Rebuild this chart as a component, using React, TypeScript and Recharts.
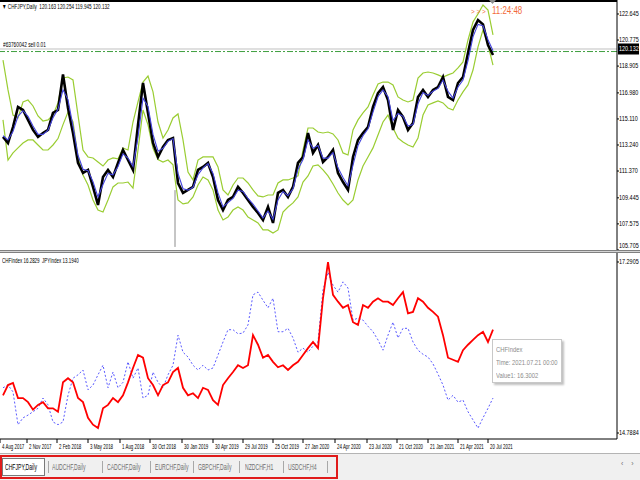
import React from 'react';
import { ComposedChart, Line, XAxis, YAxis, ReferenceLine } from 'recharts';

const FONT = "'Liberation Sans', Arial, sans-serif";

// CHFJPY daily closes, sampled along the chart
const closes = [
  113.82, 113.38, 114.53, 115.97, 115.75, 115.04, 114.32, 113.82, 114.10, 114.32,
  115.54, 115.75, 118.30, 115.90, 114.10, 111.95, 111.23, 111.45, 110.23, 108.93,
  110.94, 111.45, 110.94, 111.95, 112.88, 112.16, 111.45, 114.68, 117.70, 115.54,
  113.38, 112.38, 113.10, 113.60, 113.74, 110.51, 109.80, 110.01, 110.23, 111.45,
  111.66, 111.95, 110.94, 109.29, 108.57, 109.29, 109.51, 110.23, 109.80, 109.29,
  108.79, 108.36, 107.86, 108.79, 107.64, 109.80, 110.01, 109.51, 110.23, 111.95,
  112.38, 114.10, 112.67, 113.24, 112.02, 112.38, 112.88, 111.23, 110.58, 110.01,
  112.38, 113.60, 114.10, 114.53, 115.97, 116.97, 117.40, 116.47, 114.32, 115.75,
  115.25, 114.32, 114.82, 116.69, 117.19, 116.69, 117.19, 117.40, 118.12, 116.69,
  116.47, 117.69, 118.12, 119.85, 121.50, 122.21, 121.90, 120.42, 119.70,
];

const ma = [
  113.9, 113.6, 114.2, 115.3, 115.7, 115.3, 114.6, 114.0, 114.0, 114.3,
  115.2, 115.8, 117.2, 116.5, 114.6, 112.5, 111.5, 111.4, 110.6, 109.5,
  110.4, 111.2, 111.1, 111.7, 112.6, 112.3, 111.7, 113.8, 116.6, 116.0,
  114.0, 112.8, 113.0, 113.5, 113.7, 111.2, 110.1, 110.0, 110.2, 111.1,
  111.6, 111.9, 111.2, 109.8, 108.8, 109.1, 109.4, 110.0, 109.9, 109.4,
  109.0, 108.5, 108.0, 108.5, 107.9, 109.3, 109.9, 109.6, 110.1, 111.5,
  112.2, 113.6, 113.0, 113.2, 112.3, 112.3, 112.7, 111.6, 110.9, 110.3,
  111.8, 113.2, 113.9, 114.4, 115.6, 116.7, 117.2, 116.7, 115.0, 115.5,
  115.3, 114.6, 114.7, 116.2, 117.0, 116.8, 117.1, 117.3, 117.9, 117.1,
  116.6, 117.4, 117.9, 119.3, 121.0, 121.9, 121.8, 120.8, 120.0,
];

const envUpper = [
  119.34, 117.19, 115.39, 115.18, 116.33, 116.47, 116.04, 115.32, 114.96, 115.04,
  115.39, 116.26, 118.05, 118.12, 117.91, 115.39, 112.88, 112.38, 112.31, 112.02,
  111.73, 112.16, 112.31, 112.24, 113.03, 112.88, 114.89, 116.33, 117.76, 118.19,
  117.05, 114.89, 113.74, 114.32, 115.18, 115.47, 113.60, 111.30, 110.73, 112.16,
  112.38, 112.38, 112.38, 111.66, 110.01, 109.65, 110.37, 110.87, 110.87, 110.51,
  110.01, 109.58, 109.51, 109.65, 109.65, 110.51, 110.73, 110.73, 110.87, 111.02,
  112.88, 114.46, 114.46, 114.17, 114.10, 114.17, 114.03, 113.60, 112.67, 112.52,
  114.32, 115.04, 115.54, 115.97, 116.83, 117.62, 117.76, 117.76, 117.55, 116.69,
  116.47, 116.33, 116.47, 118.05, 118.41, 118.48, 118.41, 118.27, 118.12, 118.27,
  118.41, 118.77, 119.20, 120.78, 122.07, 122.65, 123.29, 122.93, 121.14,
];

const envLower = [
  115.04, 112.16, 112.67, 113.03, 113.38, 113.60, 113.60, 113.24, 112.88, 112.88,
  113.24, 113.70, 114.70, 115.60, 114.90, 112.40, 111.09, 110.37, 109.29, 108.57,
  108.43, 109.29, 110.23, 110.51, 110.51, 110.58, 110.15, 112.88, 115.75, 114.68,
  113.00, 112.20, 112.02, 112.16, 111.81, 109.29, 109.01, 109.08, 109.51, 110.37,
  110.94, 110.73, 110.01, 108.57, 107.86, 108.07, 108.57, 108.79, 108.57, 108.07,
  107.86, 107.64, 107.14, 107.14, 106.92, 107.14, 108.43, 108.79, 109.08, 109.51,
  110.58, 111.02, 111.73, 111.81, 111.45, 111.02, 110.44, 109.79, 109.29, 108.93,
  109.29, 110.73, 111.73, 112.38, 113.03, 113.96, 114.89, 115.39, 114.46, 113.74,
  113.46, 113.24, 113.10, 113.74, 115.39, 116.11, 116.26, 116.40, 116.26, 115.90,
  115.75, 116.47, 117.05, 117.55, 118.62, 120.28, 121.50, 120.42, 118.98,
];

const chfIndex = [
  15.34, 15.49, 15.52, 15.30, 15.30, 15.24, 15.13, 15.20, 15.24, 15.15,
  15.15, 15.10, 15.53, 15.59, 15.53, 15.30, 15.24, 15.01, 14.91, 14.86,
  15.15, 15.20, 15.30, 15.24, 15.34, 15.53, 15.74, 15.93, 15.89, 15.59,
  15.49, 15.34, 15.49, 15.53, 15.68, 15.74, 15.45, 15.34, 15.37, 15.30,
  15.45, 15.42, 15.27, 15.20, 15.49, 15.59, 15.68, 15.78, 15.74, 15.78,
  16.22, 16.08, 15.89, 15.93, 15.83, 15.75, 15.78, 15.71, 15.78, 15.83,
  15.93, 16.03, 16.12, 16.03, 16.76, 17.29, 16.81, 16.71, 16.62, 16.66,
  16.41, 16.37, 16.66, 16.62, 16.71, 16.76, 16.71, 16.71, 16.66, 16.76,
  16.85, 16.54, 16.56, 16.76, 16.71, 16.62, 16.56, 16.49, 16.22, 15.89,
  15.86, 15.83, 16.00, 16.08, 16.15, 16.22, 16.27, 16.12, 16.30,
];

const jpyIndex = [
  15.45, 15.49, 15.39, 14.91, 15.01, 15.05, 15.10, 15.15, 15.30, 15.20,
  14.95, 14.91, 14.95, 15.34, 15.59, 15.64, 15.71, 15.42, 15.49, 15.64,
  15.78, 15.45, 15.68, 15.45, 15.53, 15.83, 15.59, 15.74, 15.30, 15.34,
  15.68, 15.53, 15.45, 15.64, 15.78, 16.22, 15.97, 15.90, 15.78, 15.71,
  15.78, 15.71, 15.74, 15.93, 16.12, 16.30, 16.30, 16.24, 16.25, 16.37,
  16.81, 16.85, 16.73, 16.62, 16.76, 16.27, 16.27, 16.32, 16.18, 15.97,
  16.03, 15.97, 16.06, 16.12, 16.88, 17.14, 16.95, 16.85, 17.00, 16.91,
  16.44, 16.47, 16.44, 16.35, 16.27, 16.15, 16.00, 16.22, 16.41, 16.18,
  16.32, 16.32, 16.12, 16.00, 15.94, 15.90, 15.80, 15.65, 15.49, 15.27,
  15.34, 15.24, 15.27, 15.10, 14.98, 14.86, 15.01, 15.15, 15.30,
];

const priceTicks = [105.705, 107.575, 109.445, 111.37, 113.24, 115.11, 116.98, 118.905, 120.775, 122.645];
const indexTicks = [14.7884, 17.2905];

const dateLabels = [
  '4 Aug 2017', '2 Nov 2017', '2 Feb 2018', '3 May 2018', '1 Aug 2018', '30 Oct 2018',
  '30 Jan 2019', '30 Apr 2019', '29 Jul 2019', '25 Oct 2019', '27 Jan 2020', '24 Apr 2020',
  '23 Jul 2020', '21 Oct 2020', '21 Jan 2021', '21 Apr 2021', '20 Jul 2021',
];
const dateTicks = [-0.6, 4.8, 10.8, 17, 23.4, 29.4, 35.8, 42, 48, 54, 60, 66.4, 72.8, 78.8, 85, 91, 97];

const tabs = ['CHFJPY,Daily', 'AUDCHF,Daily', 'CADCHF,Daily', 'EURCHF,Daily', 'GBPCHF,Daily', 'NZDCHF,H1', 'USDCHF,H4'];
const tabLeft = [5, 52, 107, 155, 198, 245, 288];
const tabSep = [48, 102, 150, 193, 239, 283, 327];

const lastPrice = 120.132;
const orderPrice = 119.95;
const wick = { i: 34.4, high: 110.0, low: 105.92 };

const X_DOMAIN: [number, number] = [-0.6, 122.8];

const priceRows = closes.map((close, i) => ({ i, close, ma: ma[i], upper: envUpper[i], lower: envLower[i] }));
const indexRows = chfIndex.map((chf, i) => ({ i, chf, jpy: jpyIndex[i] }));

// narrow text, the terminal font is much tighter than anything installed
function Squeeze({ s, children }: { s: number; children: React.ReactNode }) {
  return <span style={{ display: 'inline-block', transform: `scaleX(${s})`, transformOrigin: '0 0' }}>{children}</span>;
}

function AxisTick(props: any) {
  const { x, y, payload, digits } = props;
  const ty = Math.min(y + 2.2, 248); // keep the lowest label inside the pane
  return (
    <text transform={`translate(${x},${ty}) scale(0.78,1)`} fontSize={7} fill="#000" fontFamily={FONT}>
      {Number(payload.value).toFixed(digits)}
    </text>
  );
}

function PriceTag(props: any) {
  const vb = props.viewBox || {};
  const x = vb.x + vb.width;
  const y = vb.y;
  return (
    <g>
      <rect x={x + 1} y={y - 5.5} width={21} height={11} fill="#000" />
      <text transform={`translate(${x + 2},${y + 2.4}) scale(0.78,1)`} fontSize={7} fill="#fff" fontFamily={FONT}>
        {lastPrice.toFixed(3)}
      </text>
    </g>
  );
}

function DateTick(props: any) {
  const { x, y, payload } = props;
  const k = dateTicks.indexOf(payload.value);
  return (
    <g>
      <line x1={x} x2={x} y1={y} y2={y + 4} stroke="#000" />
      <text transform={`translate(${x + 2},${y + 10}) scale(0.68,1)`} fontSize={6.5} fontFamily={FONT} fill="#000">
        {dateLabels[k]}
      </text>
    </g>
  );
}

const abs = (left: number, top: number, extra: React.CSSProperties = {}): React.CSSProperties => ({
  position: 'absolute', left, top, whiteSpace: 'nowrap', lineHeight: 1, ...extra,
});

export default function App() {
  return (
    <div style={{ position: 'relative', width: 640, height: 480, background: '#fff', overflow: 'hidden', fontFamily: FONT }}>
      <style>{'body{margin:0}'}</style>

      <div style={{ position: 'absolute', left: 0, top: 0 }}>
        <ComposedChart width={640} height={250} data={priceRows} margin={{ top: 0, right: 0, bottom: 0, left: 0 }}>
          <XAxis dataKey="i" type="number" domain={X_DOMAIN} hide allowDataOverflow />
          <YAxis
            orientation="right"
            width={23}
            domain={[105.7, 123.65]}
            ticks={priceTicks}
            interval={0}
            allowDataOverflow
            tick={<AxisTick digits={3} />}
            tickSize={2}
            tickMargin={0}
            axisLine={{ stroke: '#000' }}
            tickLine={{ stroke: '#000' }}
          />
          <ReferenceLine y={lastPrice} stroke="#c0c0c0" label={<PriceTag />} />
          <ReferenceLine y={orderPrice} stroke="#3f9f3f" strokeDasharray="6 2 2 2" />
          <ReferenceLine segment={[{ x: wick.i, y: wick.high }, { x: wick.i, y: wick.low }]} stroke="#8c8c8c" />
          <Line dataKey="upper" type="linear" stroke="#9acd32" strokeWidth={1.2} dot={false} isAnimationActive={false} />
          <Line dataKey="lower" type="linear" stroke="#9acd32" strokeWidth={1.2} dot={false} isAnimationActive={false} />
          <Line dataKey="close" type="linear" stroke="#000" strokeWidth={2.6} dot={false} isAnimationActive={false} />
          <Line dataKey="ma" type="linear" stroke="#4444dd" strokeWidth={1.1} dot={false} isAnimationActive={false} />
        </ComposedChart>
      </div>

      <div style={{ position: 'absolute', left: 0, top: 0, width: 617, height: 1.5, background: '#000' }} />
      <svg style={{ position: 'absolute', left: 489, top: 0 }} width={7} height={4}>
        <polygon points="0,0 7,0 3.5,4" fill="#8c8c8c" />
      </svg>

      <div style={abs(2, 3, { fontSize: 7 })}><Squeeze s={0.66}>▼ CHFJPY,Daily&nbsp; 120.163 120.254 119.945 120.132</Squeeze></div>
      <div style={abs(3, 41, { fontSize: 7 })}><Squeeze s={0.68}>#63760042 sell 0.01</Squeeze></div>
      <div style={abs(471, 8, { fontSize: 8, color: '#f26b3a' })}><Squeeze s={0.8}>&gt; &gt; &gt;</Squeeze></div>
      <div style={abs(492, 5, { fontSize: 11, color: '#f26b3a' })}><Squeeze s={0.72}>11:24:48</Squeeze></div>

      <div style={{ position: 'absolute', left: 0, top: 250, width: 640, height: 3, background: '#d4d4d4', borderTop: '1px solid #808080', borderBottom: '1px solid #808080', boxSizing: 'border-box' }} />

      <div style={{ position: 'absolute', left: 0, top: 253 }}>
        <ComposedChart width={640} height={200} data={indexRows} margin={{ top: 0, right: 0, bottom: 0, left: 0 }}>
          <XAxis
            dataKey="i"
            type="number"
            domain={X_DOMAIN}
            allowDataOverflow
            ticks={dateTicks}
            interval={0}
            height={14}
            tickSize={0}
            tickMargin={0}
            tickLine={false}
            axisLine={{ stroke: '#000' }}
            tick={<DateTick />}
          />
          <YAxis
            orientation="right"
            width={23}
            domain={[14.7007, 17.422]}
            ticks={indexTicks}
            interval={0}
            allowDataOverflow
            tick={<AxisTick digits={4} />}
            tickSize={2}
            tickMargin={0}
            axisLine={{ stroke: '#000' }}
            tickLine={{ stroke: '#000' }}
          />
          <Line dataKey="jpy" type="linear" stroke="#5a5aff" strokeWidth={1} strokeDasharray="2 2" dot={false} isAnimationActive={false} />
          <Line dataKey="chf" type="linear" stroke="#ff0000" strokeWidth={1.8} dot={false} isAnimationActive={false} />
        </ComposedChart>
      </div>

      <div style={abs(2, 257, { fontSize: 7 })}><Squeeze s={0.64}>CHFIndex 16.2829&nbsp; JPYIndex 13.1940</Squeeze></div>

      <div style={{ position: 'absolute', left: 492, top: 339, width: 70, height: 44, background: '#fff', border: '1px solid #c8c8c8', boxShadow: '2px 2px 2px rgba(0,0,0,0.25)', boxSizing: 'border-box', color: '#8c8c8c', fontSize: 7.5, lineHeight: '13px', padding: '3px 0 0 3px', whiteSpace: 'nowrap' }}>
        <div><Squeeze s={0.78}>CHFIndex</Squeeze></div>
        <div><Squeeze s={0.78}>Time: 2021.07.21 00:00</Squeeze></div>
        <div><Squeeze s={0.78}>Value1: 16.3002</Squeeze></div>
      </div>

      <div style={{ position: 'absolute', left: 0, top: 453, width: 640, height: 27, background: '#f0f0f0', borderTop: '1px solid #b4b4b4', boxSizing: 'border-box' }} />
      <div style={{ position: 'absolute', left: 2, top: 458, width: 43, height: 18, background: '#fff', border: '1px solid #7a7a7a', boxSizing: 'border-box' }} />
      {tabs.map((t, k) => (
        <div key={t} style={abs(tabLeft[k], 463, { fontSize: 8.5, color: k === 0 ? '#000' : '#6e6e6e', textDecoration: k === 0 ? 'underline' : 'none' })}>
          <Squeeze s={0.6}>{t}</Squeeze>
        </div>
      ))}
      {tabSep.map((x) => (
        <div key={x} style={{ position: 'absolute', left: x, top: 461, width: 1, height: 12, background: '#a8a8a8' }} />
      ))}
      <div style={{ position: 'absolute', left: 0, top: 455, width: 338, height: 24, border: '2px solid #e01b1b', boxSizing: 'border-box' }} />
      <div style={abs(621, 460, { fontSize: 7, color: '#6e6e6e', letterSpacing: 3 })}>‹ ›</div>
    </div>
  );
}
